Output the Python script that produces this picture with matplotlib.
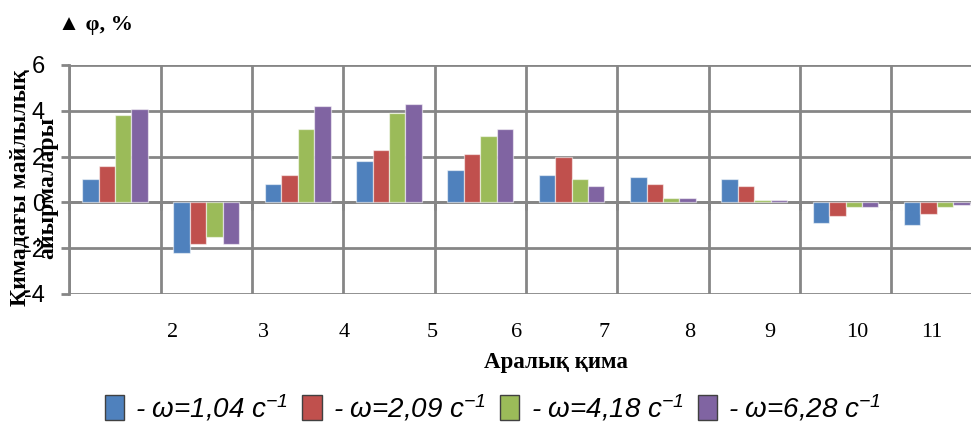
import matplotlib
matplotlib.use("Agg")
import matplotlib.pyplot as plt
import numpy as np
from matplotlib.patches import Patch

# ---- data ----
categories = list(range(1, 11))
series_names = ["- ω=1,04 с$^{-1}$", "- ω=2,09 с$^{-1}$", "- ω=4,18 с$^{-1}$", "- ω=6,28 с$^{-1}$"]
s1 = [1.0, -2.2, 0.8, 1.8, 1.4, 1.2, 1.1, 1.0, -0.9, -1.0]
s2 = [1.6, -1.8, 1.2, 2.3, 2.1, 2.0, 0.8, 0.7, -0.6, -0.5]
s3 = [3.8, -1.5, 3.2, 3.9, 2.9, 1.0, 0.2, 0.1, -0.2, -0.2]
s4 = [4.1, -1.8, 4.2, 4.3, 3.2, 0.7, 0.2, 0.1, -0.2, -0.1]
section_labels = ["2", "3", "4", "5", "6", "7", "8", "9", "10", "11"]
y_ticks = [-4, -2, 0, 2, 4, 6]

# ---- layout (not data) ----
section_label_x = [0.635, 1.631, 2.507, 3.471, 4.402, 5.355, 6.296, 7.172, 8.125, 8.946]
colors = ["#4F81BD", "#C0504D", "#9BBB59", "#8064A2"]
grid_c = "#868686"

plt.rcParams["mathtext.fontset"] = "custom"
plt.rcParams["mathtext.rm"] = "Liberation Sans:italic"
plt.rcParams["mathtext.it"] = "Liberation Sans:italic"

W, H = 971, 423
fig = plt.figure(figsize=(W / 100, H / 100), dpi=100)
left_px, right_px, top_px, bot_px = 69.3, 982.6, 65, 294
ax = fig.add_axes([left_px / W, 1 - bot_px / H, (right_px - left_px) / W, (bot_px - top_px) / H])

x = np.arange(len(categories))
bw = 0.18
series = [s1, s2, s3, s4]
for i, (vals, c, name) in enumerate(zip(series, colors, series_names)):
    ax.bar(x + (i - 1.5) * bw, vals, width=bw, color=c, edgecolor=(1, 1, 1, 0.55),
           linewidth=0.9, label=name, zorder=3)

ax.set_xlim(-0.5, len(categories) - 0.5)
ax.set_ylim(-4, 6)
ax.set_yticks(y_ticks)
ax.set_yticklabels([str(t) for t in y_ticks], family=["Liberation Sans", "DejaVu Sans"], fontsize=17)
ax.set_xticks(np.arange(-0.5, len(categories) + 0.5, 1.0))
ax.set_xticklabels([])
ax.grid(True, color=grid_c, linewidth=2.0, zorder=0)
ax.set_axisbelow(True)
for sp in ["top", "right"]:
    ax.spines[sp].set_visible(False)
ax.spines["left"].set_color(grid_c)
ax.spines["left"].set_linewidth(2.0)
ax.spines["bottom"].set_position(("data", 0))
ax.spines["bottom"].set_color(grid_c)
ax.spines["bottom"].set_linewidth(2.0)
ax.tick_params(axis="y", length=5.5, width=2.0, color=grid_c, pad=12)
ax.tick_params(axis="x", length=5.5, width=2.0, color=grid_c, direction="out")

# section labels below the plot
trans = matplotlib.transforms.blended_transform_factory(ax.transData, fig.transFigure)
for lx, lab in zip(section_label_x, section_labels):
    ax.text(lx, 1 - 332 / H, lab, transform=trans, ha="center", va="center",
            fontsize=16, family=["Liberation Serif", "DejaVu Serif"])

fig.text(556 / W, 1 - 362 / H, "Аралық қима", ha="center", va="center", fontsize=16.5,
         fontweight="bold", family=["Liberation Serif", "DejaVu Serif"])

fig.text(34 / W, 1 - 188 / H, "Қимадағы майлылық\nайырмалары", rotation=90, ha="center", va="center",
         multialignment="center", fontsize=17, fontweight="bold", linespacing=1.4,
         family=["Liberation Serif", "DejaVu Serif"])

fig.text(58 / W, 1 - 25 / H, "▲ φ, %", ha="left", va="center", fontsize=16, fontweight="bold",
         family=["Liberation Serif", "DejaVu Serif"])

handles = [Patch(facecolor=c, edgecolor="#404040", linewidth=1.0) for c in colors]
leg = fig.legend(handles, series_names, loc="center", bbox_to_anchor=(493 / W, 1 - 408 / H), ncol=4,
                 frameon=False, handlelength=0.7, handleheight=1.0, handletextpad=0.4,
                 columnspacing=0.5, prop={"family": "Liberation Sans", "style": "italic", "size": 20})

fig.savefig("out.png", dpi=100)
